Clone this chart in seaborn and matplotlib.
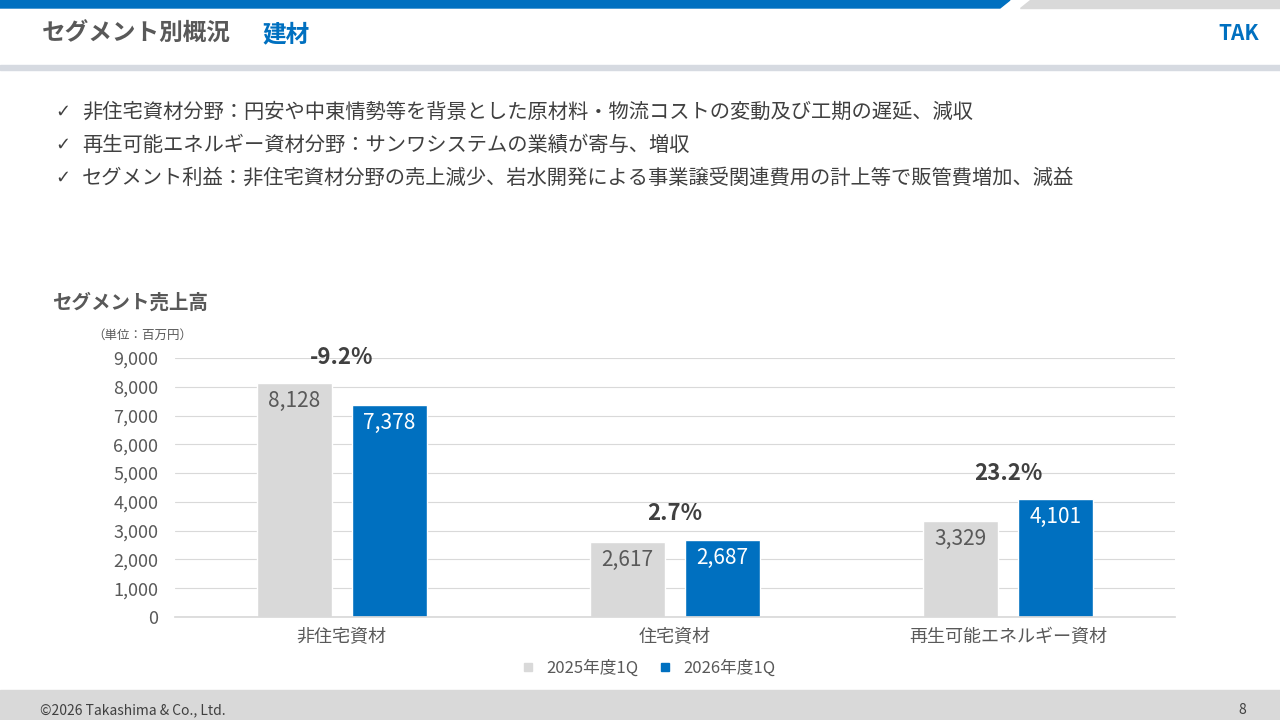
import matplotlib.pyplot as plt
import pandas as pd
import seaborn as sns
from matplotlib.patches import Rectangle, Polygon
from matplotlib.lines import Line2D

BLUE = "#0070C0"
LGRAY = "#D9D9D9"
TXT = "#595959"

sns.set_theme(style="white")
plt.rcParams["font.family"] = ["Noto Sans CJK JP", "DejaVu Sans"]

categories = ["非住宅資材", "住宅資材", "再生可能エネルギー資材"]
prev = [8128, 2617, 3329]
curr = [7378, 2687, 4101]
growth = ["-9.2%", "2.7%", "23.2%"]
df = pd.DataFrame({
    "seg": categories * 2,
    "year": ["2025年度1Q"] * 3 + ["2026年度1Q"] * 3,
    "sales": prev + curr,
})

fig = plt.figure(figsize=(12.8, 7.2), dpi=100)
fig.patch.set_facecolor("white")

# slide frame
fig.patches.append(Polygon([[0, 1], [1010 / 1280, 1], [1000 / 1280, 1 - 8 / 720], [0, 1 - 8 / 720]],
                           closed=True, transform=fig.transFigure, color=BLUE, zorder=0))
fig.patches.append(Polygon([[1030 / 1280, 1], [1, 1], [1, 1 - 8 / 720], [1020 / 1280, 1 - 8 / 720]],
                           closed=True, transform=fig.transFigure, color=LGRAY, zorder=0))
fig.patches.append(Rectangle((0, 1 - 70 / 720), 1, 5 / 720, transform=fig.transFigure, color="#D6DAE1", zorder=0))
fig.patches.append(Rectangle((0, 0), 1, 30 / 720, transform=fig.transFigure, color="#D9D9D9", zorder=0))

fig.text(42 / 1280, 1 - 34 / 720, "セグメント別概況", fontsize=17, fontweight="bold", color=TXT, va="center")
fig.text(262 / 1280, 1 - 34 / 720, "建材", fontsize=17, fontweight="bold", color=BLUE, va="center")
fig.text(1218 / 1280, 1 - 34 / 720, "TAK", fontsize=15, fontweight="bold", fontstyle="italic", color=BLUE, va="center")

bullets = [
    "非住宅資材分野：円安や中東情勢等を背景とした原材料・物流コストの変動及び工期の遅延、減収",
    "再生可能エネルギー資材分野：サンワシステムの業績が寄与、増収",
    "セグメント利益：非住宅資材分野の売上減少、岩水開発による事業譲受関連費用の計上等で販管費増加、減益",
]
for i, b in enumerate(bullets):
    y = 1 - (112 + 33 * i) / 720
    fig.text(55 / 1280, y, "✓", fontsize=13, color="#404040", va="center", family=["DejaVu Sans"])
    fig.text(82 / 1280, y, b, fontsize=14.6, color="#404040", va="center")

fig.text(52 / 1280, 1 - 303 / 720, "セグメント売上高", fontsize=14, fontweight="bold", color=TXT, va="center")
fig.text(92 / 1280, 1 - 335 / 720, "（単位：百万円）", fontsize=9, color=TXT, va="center")

fig.text(40 / 1280, 1 - 710 / 720, "©2026 Takashima & Co., Ltd.", fontsize=10, color="#404040", va="center")
fig.text(1238 / 1280, 1 - 710 / 720, "8", fontsize=10, color="#404040", va="center")

ax = fig.add_axes([175 / 1280, 103 / 720, 1000 / 1280, 259 / 720])
sns.barplot(data=df, x="seg", y="sales", hue="year", palette=[LGRAY, BLUE],
            width=0.57, gap=0.21, ax=ax, legend=False, saturation=1)
ax.set_ylim(0, 9000)
ax.set_xlim(-0.5, 2.5)
ax.set_yticks(range(0, 9001, 1000))
ax.set_yticklabels([f"{v:,}" for v in range(0, 9001, 1000)], fontsize=13, color=TXT)
ax.yaxis.grid(True, color="#D9D9D9", linewidth=0.8)
ax.set_axisbelow(True)
for s in ["top", "right", "left"]:
    ax.spines[s].set_visible(False)
ax.spines["bottom"].set_color("#D9D9D9")
ax.tick_params(axis="y", length=0, pad=12)
ax.tick_params(axis="x", length=0, pad=8)
ax.set_xticks(range(3))
ax.set_xticklabels(categories, fontsize=13, color=TXT)
ax.set_xlabel("")
ax.set_ylabel("")

for i in range(3):
    ax.text(i - 0.1425, prev[i] - 250, f"{prev[i]:,}", ha="center", va="top", fontsize=15, color=TXT)
    ax.text(i + 0.1425, curr[i] - 250, f"{curr[i]:,}", ha="center", va="top", fontsize=15, color="white")
    top = max(prev[i], curr[i])
    ax.text(i, top + 500, growth[i], ha="center", va="bottom", fontsize=16, fontweight="bold",
            color="#404040", clip_on=False)

handles = [Line2D([], [], marker="s", linestyle="", color=LGRAY, markersize=6),
           Line2D([], [], marker="s", linestyle="", color=BLUE, markersize=6)]
fig.legend(handles, ["2025年度1Q", "2026年度1Q"], loc="center", bbox_to_anchor=(643 / 1280, 1 - 668 / 720),
           ncol=2, frameon=False, fontsize=12, handletextpad=0.1, columnspacing=0.6, labelcolor=TXT)

fig.savefig("out.png", dpi=100, facecolor="white")
